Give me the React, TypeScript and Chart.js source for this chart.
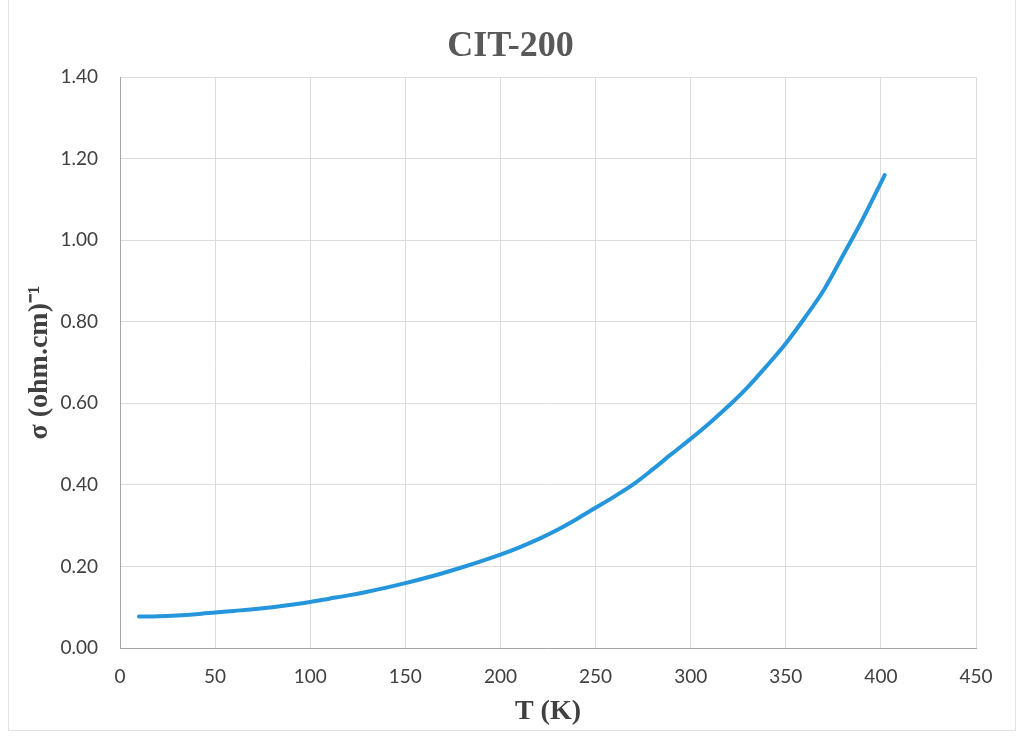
import React, { useEffect, useRef } from "react";
import { Chart, registerables } from "chart.js";

Chart.register(...registerables);

const chartTitle = "CIT-200";
const xAxisTitle = "T (K)";
const yAxisTitle = "σ (ohm.cm)⁻¹";

const temperatures = [
  10, 20, 30, 40, 50, 60, 70, 80, 90, 100, 110, 120, 130, 140, 150, 160, 170,
  180, 190, 200, 210, 220, 230, 240, 250, 260, 270, 280, 290, 300, 310, 320,
  330, 340, 350, 360, 370, 380, 390, 402,
];
const conductivity = [
  0.077, 0.078, 0.08, 0.083, 0.087, 0.091, 0.095, 0.1, 0.106, 0.113, 0.121,
  0.129, 0.138, 0.148, 0.159, 0.171, 0.184, 0.198, 0.213, 0.229, 0.247, 0.267,
  0.29, 0.316, 0.344, 0.372, 0.402, 0.438, 0.476, 0.513, 0.552, 0.594, 0.64,
  0.692, 0.747, 0.81, 0.878, 0.962, 1.048, 1.16,
];
const xTicks = [0, 50, 100, 150, 200, 250, 300, 350, 400, 450];
const yTicks = [0, 0.2, 0.4, 0.6, 0.8, 1.0, 1.2, 1.4];

export default function App() {
  const ref = useRef<HTMLCanvasElement | null>(null);

  useEffect(() => {
    if (!ref.current) return;
    const points = temperatures.map((t, i) => ({ x: t, y: conductivity[i] }));
    const chart = new Chart(ref.current, {
      type: "line",
      data: {
        datasets: [
          {
            data: points,
            borderColor: "#2596dc",
            backgroundColor: "#2596dc",
            borderWidth: 4,
            pointRadius: 0,
            cubicInterpolationMode: "monotone",
            borderCapStyle: "round",
            fill: false,
          },
        ],
      },
      options: {
        responsive: false,
        animation: false,
        layout: { padding: { left: 0, right: 0, top: 0, bottom: 0 } },
        plugins: {
          legend: { display: false },
          tooltip: { enabled: false },
          title: {
            display: true,
            text: chartTitle,
            color: "#595959",
            font: { family: "'Liberation Serif', 'Times New Roman', serif", size: 36, weight: "bold" },
            padding: { top: 25, bottom: 9 },
          },
        },
        scales: {
          x: {
            type: "linear",
            min: 0,
            max: 450,
            afterFit: (scale: any) => {
              scale.height = 89;
            },
            afterBuildTicks: (scale: any) => {
              scale.ticks = xTicks.map((v) => ({ value: v }));
            },
            grid: { color: "#dcdcdc", drawTicks: false, lineWidth: 1 },
            border: { color: "#a6a6a6", width: 1 },
            ticks: {
              color: "#404040",
              font: { family: "Lato, 'Open Sans', sans-serif", size: 19 },
              padding: 17,
              maxRotation: 0,
              autoSkip: false,
              callback: (v: any) => String(v),
            },
            title: {
              display: true,
              text: xAxisTitle,
              color: "#404040",
              font: { family: "'Liberation Serif', 'Times New Roman', serif", size: 28, weight: "bold" },
              padding: { top: 0, bottom: 8 },
            },
          },
          y: {
            type: "linear",
            min: 0,
            max: 1.4,
            afterFit: (scale: any) => {
              scale.width = 120;
            },
            afterBuildTicks: (scale: any) => {
              scale.ticks = yTicks.map((v) => ({ value: v }));
            },
            grid: { color: "#dcdcdc", drawTicks: false, lineWidth: 1 },
            border: { color: "#a6a6a6", width: 1 },
            ticks: {
              color: "#404040",
              font: { family: "Lato, 'Open Sans', sans-serif", size: 19 },
              padding: 22,
              autoSkip: false,
              callback: (v: any) => Number(v).toFixed(2),
            },
            title: {
              display: true,
              text: yAxisTitle,
              color: "#404040",
              font: { family: "'Liberation Serif', 'Times New Roman', serif", size: 28, weight: "bold" },
              padding: { top: 23, bottom: 0 },
            },
          },
          spacer: {
            type: "linear",
            position: "right",
            display: true,
            min: 0,
            max: 1,
            afterFit: (scale: any) => {
              scale.width = 45;
            },
            grid: { display: false, drawTicks: false },
            border: { display: false },
            ticks: { display: false },
            title: { display: false },
          },
        },
      },
    });
    return () => chart.destroy();
  }, []);

  return (
    <div style={{ position: "absolute", left: 0, top: 0, width: 1021, height: 737, background: "#ffffff" }}>
      <div
        style={{
          position: "absolute",
          left: 8,
          top: -2,
          width: 1008,
          height: 733,
          border: "1px solid #e2e2e2",
          boxSizing: "border-box",
        }}
      />
      <canvas ref={ref} width={1021} height={737} style={{ position: "absolute", left: 0, top: 0 }} />
    </div>
  );
}
